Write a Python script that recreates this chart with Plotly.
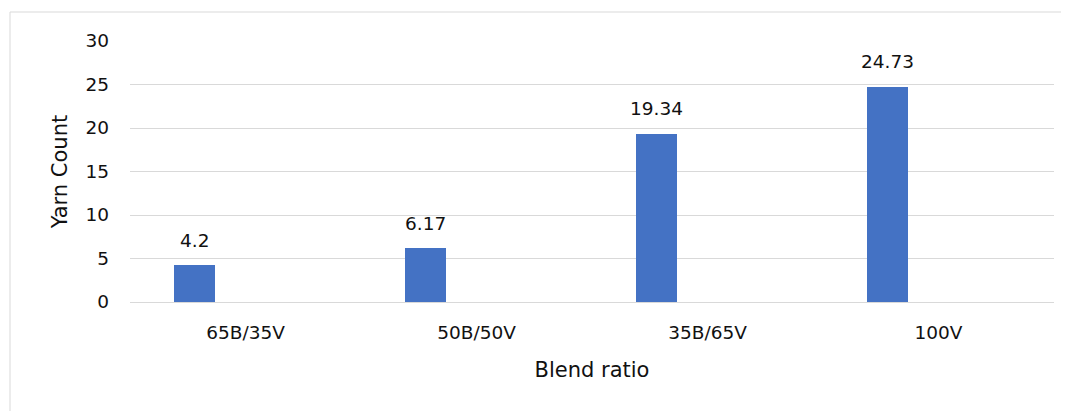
import plotly.graph_objects as go

categories = ["65B/35V", "50B/50V", "35B/65V", "100V"]
yarn_count = [4.2, 6.17, 19.34, 24.73]
y_ticks = [0, 5, 10, 15, 20, 25, 30]

FONT = "DejaVu Sans"
BAR_COLOR = "#4472C4"
GRID = "#D9D9D9"
TXT = "#111111"

# page has an 8px body margin; figure sized to fit the window
W, H = 1061, 403
ML, MR, MT, MB = 122, 15, 33, 109
plot_w = W - ML - MR
plot_h = H - MT - MB
cat_px = plot_w / len(categories)

bar_width = 0.176
bar_offset = -0.308

fig = go.Figure()
fig.add_trace(go.Bar(
    x=categories, y=yarn_count,
    width=bar_width, offset=bar_offset,
    marker=dict(color=BAR_COLOR, line=dict(width=0)),
    showlegend=False, hoverinfo="x+y",
))

# data labels
for c, v in zip(categories, yarn_count):
    fig.add_annotation(
        x=c, y=v, xref="x", yref="y",
        text=str(v), showarrow=False,
        xshift=(bar_offset + bar_width / 2) * cat_px,
        yshift=25, yanchor="middle",
        font=dict(family=FONT, size=18.5, color=TXT),
    )

# outer chart border (left and top edges visible)
x0 = (2 - ML) / plot_w
y_top = (H - MB - 4) / plot_h
y_bot = (H - MB - 420) / plot_h
fig.add_shape(type="line", xref="paper", yref="paper", x0=x0, x1=x0, y0=y_bot, y1=y_top,
              line=dict(color="#D9D9D9", width=1))
fig.add_shape(type="line", xref="paper", yref="paper", x0=x0, x1=(1075 - ML) / plot_w, y0=y_top, y1=y_top,
              line=dict(color="#D9D9D9", width=1))

fig.update_layout(
    width=W, height=H,
    margin=dict(l=ML, r=MR, t=MT, b=MB, pad=0),
    paper_bgcolor="white", plot_bgcolor="white",
    font=dict(family=FONT, size=18.5, color=TXT),
    bargap=0,
    xaxis=dict(
        type="category", range=[-0.5, 3.5],
        showgrid=False, showline=True, linecolor=GRID, linewidth=1,
        ticks="", tickfont=dict(family=FONT, size=18.5, color=TXT),
        ticklabelstandoff=14,
        title=dict(text="Blend ratio", font=dict(family=FONT, size=21, color=TXT), standoff=20),
    ),
    yaxis=dict(
        range=[0, 30], tickvals=y_ticks,
        showgrid=True, gridcolor=GRID, gridwidth=1,
        zeroline=False, showline=False, ticks="",
        tickfont=dict(family=FONT, size=18.5, color=TXT),
        ticklabelstandoff=20,
        title=dict(text="Yarn Count", font=dict(family=FONT, size=21, color=TXT), standoff=12),
    ),
)

fig.write_html("out.html")
